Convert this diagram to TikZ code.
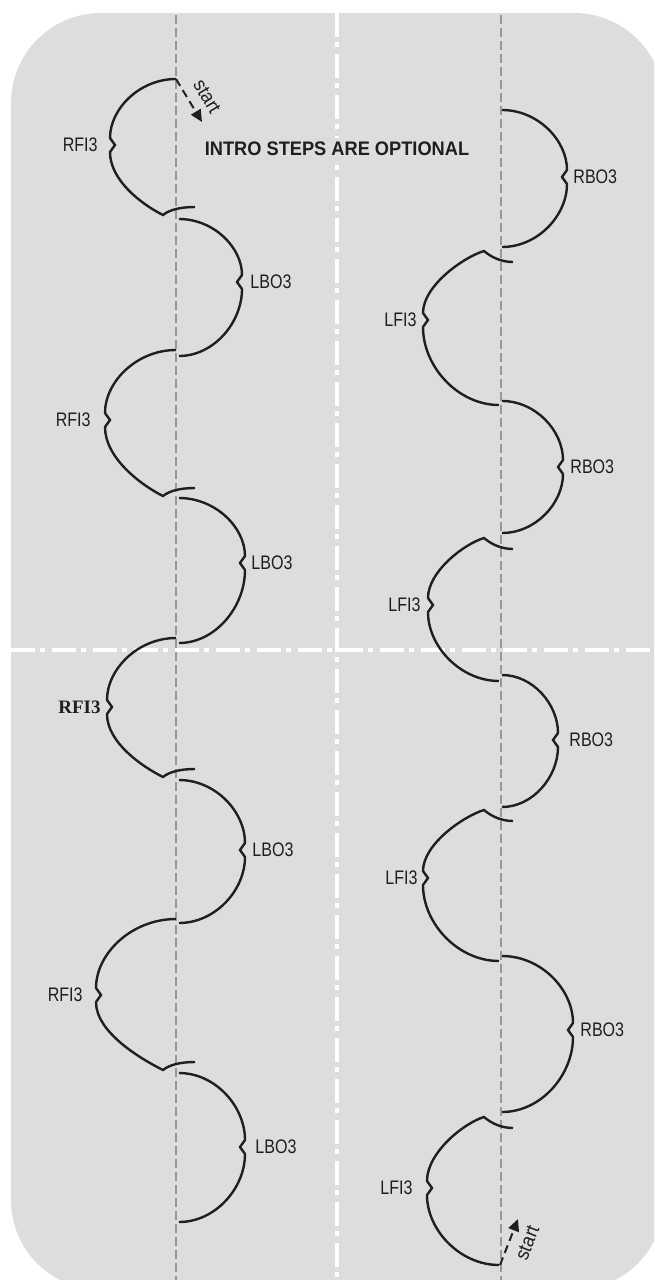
\documentclass[tikz,border=0pt]{standalone}
\usepackage{fontspec}
\usetikzlibrary{arrows.meta}
\newfontfamily\lblfont[FakeStretch=0.82]{Liberation Sans}
\newfontfamily\notefont[FakeStretch=0.93]{Liberation Sans}
\newfontfamily\oddfont{Liberation Serif}
\definecolor{rink}{RGB}{220,221,223}
\definecolor{spinegray}{RGB}{152,152,154}
\definecolor{ink}{RGB}{32,30,31}
\begin{document}
\begin{tikzpicture}[x=0.5pt,y=-0.5pt,line cap=butt,line join=miter,
    edge/.style={ink,line width=1.2pt},
    spine/.style={spinegray,line width=1pt,dash pattern=on 4.5pt off 2pt},
    axisline/.style={white,line width=2.2pt,dash pattern=on 12pt off 2.5pt on 2.5pt off 3.5pt},
    lbl/.style={inner sep=0pt,text=ink,font=\lblfont\fontsize{9.8}{10}\selectfont},
    oddlbl/.style={inner sep=0pt,text=ink,font=\oddfont\bfseries\fontsize{9.5}{10}\selectfont},
    startlbl/.style={inner sep=0pt,text=ink,font=\notefont\fontsize{9.8}{10}\selectfont},
    startline/.style={ink,line width=1pt,dash pattern=on 4pt off 2.5pt,-{Triangle[length=6pt,width=5.5pt]}}]
  \useasboundingbox (0,0) rectangle (654,1280);
  \clip (0,0) rectangle (654,1280);
  \fill[rink,rounded corners=45pt] (11,13) rectangle (664,1290);
  % centre lines of the rink
  \draw[axisline] (337,13)--(337,1280);
  \draw[axisline] (11,650)--(654,650);
  % long axes
  \draw[spine] (176,15)--(176,1280);
  \draw[spine] (501,15)--(501,1280);
  % back outside threes
  \foreach \s/\a/\b/\m/\e/\lx/\lab [count=\i] in {179/219/356/282/242/250/LBO3,179/498/643/563/245/251/LBO3,
      179/780/923/850/245/252/LBO3,179/1073/1222/1147/245/255/LBO3,502/110/247/177/567/573/RBO3,
      502/401/533/467/563/570/RBO3,502/675/807/740/558/569/RBO3,502/956/1112/1030/573/580/RBO3}{
    \draw[edge] (\s,\a) .. controls ({\s+0.55*(\e-\s)},\a) and (\e,{\m-0.55*(\m-\a)}) .. (\e,{\m-7})
      -- ({\e-5},\m) -- (\e,{\m+7}) .. controls (\e,{\m+0.55*(\b-\m)}) and ({\s+0.55*(\e-\s)},\b) .. (\s,\b);
    \node[lbl,anchor=west] (bo\i) at (\lx,\m) {\lab};
  }
  % forward inside threes, left axis
  \foreach \a/\b/\m/\e/\lx/\st [count=\i] in {79/215/145/110/98/lbl,350/496/420/105/91/lbl,
      638/777/707/107/101/oddlbl,919/1070/995/96/83/lbl}{
    \draw[edge] (176,\a) .. controls ({176-0.55*(176-\e)},\a) and (\e,{\m-0.55*(\m-\a)}) .. (\e,{\m-7})
      -- ({\e+5},\m) -- (\e,{\m+7}) .. controls (\e,{\m+0.5*(\b-\m)}) and (141,{\b-11}) .. (163,\b)
      .. controls (169,{\b-5}) and (180,{\b-8}) .. (195,{\b-8});
    \node[\st,anchor=east] (rfi\i) at (\lx,\m) {RFI3};
  }
  % forward inside threes, right axis
  \foreach \c/\b/\m/\e/\lx [count=\i] in {251/405/320/423/417,538/681/605/428/421,
      810/961/878/423/418,1117/1265/1188/427/413}{
    \draw[edge] (513,{\c+11}) .. controls (501,{\c+11}) and (491,{\c+6}) .. (484,\c)
      .. controls (464,{\c+6}) and (\e,{\m-0.5*(\m-\c)}) .. (\e,{\m-7}) -- ({\e+5},\m) -- (\e,{\m+7})
      .. controls (\e,{\m+0.55*(\b-\m)}) and ({501-0.55*(501-\e)},\b) .. (499,\b);
    \node[lbl,anchor=east] (lfi\i) at (\lx,\m) {LFI3};
  }
  \node[inner sep=2pt,fill=rink,text=ink,font=\notefont\bfseries\fontsize{9.8}{10}\selectfont] (intro) at (337,149) {INTRO STEPS ARE OPTIONAL};
  \coordinate (go1) at (176,79);
  \coordinate (tip1) at (202,122);
  \draw[startline] (go1) -- (tip1) node[startlbl,pos=0.62,above=5pt,sloped] (start1) {start};
  \coordinate (go2) at (500,1265);
  \coordinate (tip2) at (518,1219);
  \draw[startline] (go2) -- (tip2) node[startlbl,pos=0.62,below=5pt,sloped] (start2) {start};
\end{tikzpicture}
\end{document}
